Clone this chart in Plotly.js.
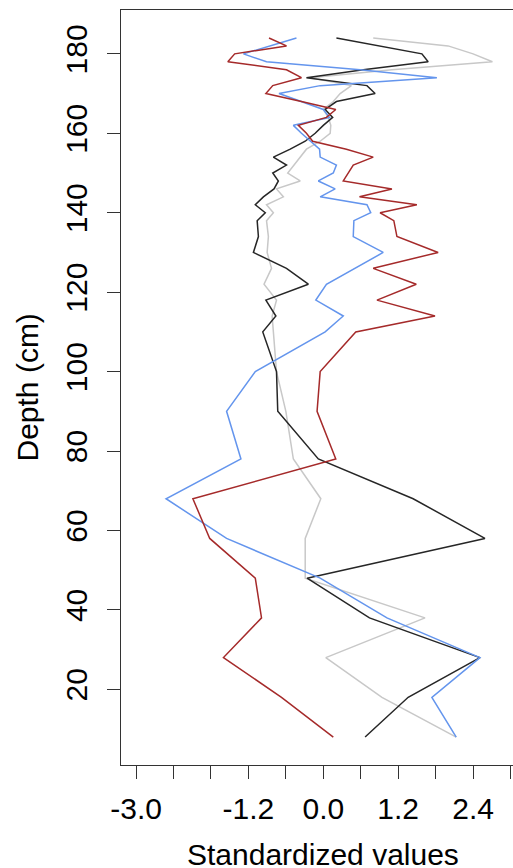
<!DOCTYPE html>
<html>
<head>
<meta charset="utf-8">
<script src="https://cdn.plot.ly/plotly-3.0.1.min.js"></script>
<style>
html,body{margin:0;padding:0;background:#fff;overflow:hidden;}
#chart{width:513px;height:868px;}
</style>
</head>
<body>
<div id="chart"></div>
<script>
var depth = [184,182,180,178,176,174,172,170,168,166,164,162,160,158,156,154,152,150,148,146,144,142,140,138,134,130,126,122,118,114,110,100,90,78,68,58,48,38,28,18,8];

var redSeries = [-0.87,-0.59,-1.42,-1.53,-0.59,-0.35,-0.81,-0.92,-0.35,0.20,0.05,-0.40,-0.27,-0.17,0.37,0.80,0.48,0.40,0.32,1.10,0.58,1.50,0.91,1.13,1.18,1.84,0.80,1.49,0.86,1.79,0.52,-0.05,-0.10,0.20,-2.09,-1.82,-1.09,-0.99,-1.60,-0.67,0.16];

var blueSeries = [-0.43,-0.85,-1.28,-0.91,0.59,1.82,-0.05,-0.71,-0.37,0.00,0.10,-0.48,-0.35,-0.21,-0.06,-0.05,0.21,0.16,-0.08,0.19,-0.05,0.70,0.76,0.49,0.48,0.96,0.50,0.05,-0.12,0.32,0.03,-1.09,-1.55,-1.32,-2.52,-1.55,-0.05,1.02,2.51,1.74,2.13];

var blackSeries = [0.21,0.90,1.58,1.68,0.64,-0.27,0.70,0.83,0.21,0.03,0.15,0.00,-0.13,-0.29,-0.53,-0.80,-0.59,-0.81,-0.72,-0.79,-0.96,-1.09,-0.93,-1.06,-1.04,-1.12,-0.59,-0.24,-0.92,-0.76,-0.97,-0.75,-0.73,-0.08,1.44,2.59,-0.26,0.74,2.51,1.36,0.67];

var greySeries = [0.80,2.00,2.40,2.71,1.10,-0.21,0.45,0.27,0.16,0.00,0.08,0.12,0.11,-0.05,-0.27,-0.37,-0.48,-0.57,-0.37,-0.75,-0.64,-0.91,-0.80,-0.91,-0.88,-0.90,-0.83,-0.95,-0.75,-0.82,-0.80,-0.75,-0.60,-0.48,-0.04,-0.29,-0.29,1.63,0.04,0.94,2.13];

var xTickVals = [-3.0,-2.4,-1.8,-1.2,-0.6,0.0,0.6,1.2,1.8,2.4,3.0];
var xTickText = ["-3.0","","","-1.2","","0.0","","1.2","","2.4",""];
var yTickVals = [20,40,60,80,100,120,140,160,180];

var xTitle = "Standardized values";
var yTitle = "Depth (cm)";

function tr(vals, color) {
  return {x: vals, y: depth, type: 'scatter', mode: 'lines',
          line: {color: color, width: 1.5}, hoverinfo: 'skip', showlegend: false};
}

var data = [
  tr(greySeries, '#C8C8C8'),
  tr(blackSeries, '#262626'),
  tr(blueSeries, '#6495ED'),
  tr(redSeries, '#A52A2A')
];

var fontFam = 'Liberation Sans, Arial, sans-serif';

var layout = {
  width: 513, height: 868,
  margin: {l: 121, r: 0, t: 10, b: 103},
  paper_bgcolor: '#fff', plot_bgcolor: '#fff',
  showlegend: false,
  font: {family: fontFam, size: 30, color: '#000'},
  xaxis: {
    range: [-3.242, 3.040], autorange: false,
    tickmode: 'array', tickvals: xTickVals, ticktext: xTickText,
    ticks: 'outside', ticklen: 13, tickwidth: 1, tickcolor: '#333',
    showline: true, linecolor: '#333', linewidth: 1, mirror: true,
    showgrid: false, zeroline: false,
    tickfont: {family: fontFam, size: 30, color: '#000'},
    ticklabelstandoff: 4
  },
  yaxis: {
    range: [0.96, 191.04], autorange: false,
    tickmode: 'array', tickvals: yTickVals,
    ticks: 'outside', ticklen: 13, tickwidth: 1, tickcolor: '#333',
    showline: true, linecolor: '#333', linewidth: 1, mirror: false,
    showgrid: false, zeroline: false, tickangle: -90,
    tickfont: {family: fontFam, size: 30, color: '#000'},
    ticklabelstandoff: 8
  },
  annotations: [
    {text: xTitle, xref: 'x', x: 0, yref: 'paper', y: 0, yshift: -89,
     xanchor: 'center', yanchor: 'middle', showarrow: false,
     font: {family: fontFam, size: 30, color: '#000'}},
    {text: yTitle, xref: 'paper', x: 0, xshift: -94, yref: 'paper', y: 0.5,
     xanchor: 'center', yanchor: 'middle', textangle: -90, showarrow: false,
     font: {family: fontFam, size: 30, color: '#000'}}
  ]
};

Plotly.newPlot('chart', data, layout, {displayModeBar: false, staticPlot: true});
</script>
</body>
</html>
